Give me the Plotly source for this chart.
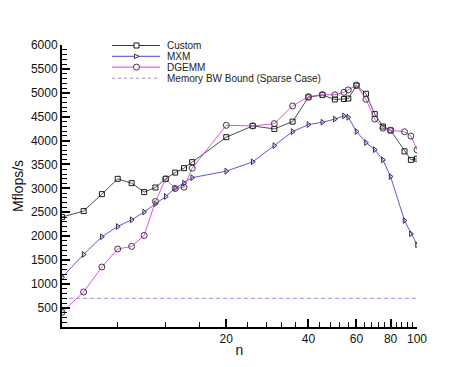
import math
import plotly.graph_objects as go

# ---- data ----
n_values = [5, 6, 7, 8, 9, 10, 11, 12, 13, 14, 15, 20, 25, 30, 35, 40, 45, 50, 54, 56,
            60, 65, 70, 75, 80, 90, 95, 100]
custom = [2400, 2525, 2880, 3200, 3110, 2922, 3018, 3200, 3331, 3423, 3549, 4071, 4307,
          4244, 4397, 4906, 4955, 4860, 4871, 4880, 5150, 4980, 4555, 4295, 4215, 3775,
          3597, 3620]
mxm = [1138, 1618, 1988, 2203, 2343, 2504, 2677, 2830, 3005, 3110, 3225, 3360, 3555,
       3895, 4188, 4334, 4384, 4450, 4516, 4489, 4190, 3958, 3810, 3597, 3248, 2329,
       2051, 1821]
dgemm = [407, 833, 1355, 1731, 1786, 2015, 2726, 3200, 2997, 3026, 3423, 4320, 4307,
         4355, 4725, 4919, 4961, 4958, 5010, 5060, 5163, 4865, 4450, 4260, 4215, 4185,
         4095, 3806]
bw_bound = 700

series_names = ["Custom", "MXM", "DGEMM", "Memory BW Bound (Sparse Case)"]
x_tick_vals = [20, 40, 60, 80, 100]
x_tick_text = ["20", "40", "60", "80", "100"]
x_minor_vals = [8, 12, 16, 24, 28, 32, 36, 44, 48, 52, 56, 64, 68, 72, 76, 84, 88, 92, 96]
y_tick_vals = [500, 1000, 1500, 2000, 2500, 3000, 3500, 4000, 4500, 5000, 5500, 6000]

FONT = "Liberation Sans, Arial, sans-serif"
C_CUSTOM = "#3a3a3a"
C_MXM = "#4646d8"
C_DGEMM = "#e03ce0"
C_BOUND = "#a08ce6"

fig = go.Figure()
fig.add_trace(go.Scatter(
    x=n_values, y=custom, mode="lines+markers", name=series_names[0],
    line=dict(color=C_CUSTOM, width=0.9),
    marker=dict(symbol="square-open", size=5, color="#1a1a1a", line=dict(width=1))))
fig.add_trace(go.Scatter(
    x=n_values, y=mxm, mode="lines+markers", name=series_names[1],
    line=dict(color=C_MXM, width=0.9),
    marker=dict(symbol="triangle-right-open", size=5, color="#30304a", line=dict(width=1))))
fig.add_trace(go.Scatter(
    x=n_values, y=dgemm, mode="lines+markers", name=series_names[2],
    line=dict(color=C_DGEMM, width=0.9),
    marker=dict(symbol="circle-open", size=6, color="#3a3a3a", line=dict(width=1))))
fig.add_trace(go.Scatter(
    x=[n_values[0], n_values[-1]], y=[bw_bound, bw_bound], mode="lines",
    name=series_names[3],
    line=dict(color=C_BOUND, width=1, dash="4px,3px")))

# ---- manual compact legend (decoration only) ----
L, R, T, B = 62, 57, 45, 40
W, H = 474, 367
pw, ph = W - L - R, H - T - B


def px(xp):
    return (xp - L) / pw


def py(yp):
    return (H - B - yp) / ph


rows_y = [45.5, 56.3, 67.1, 78.2]
line_x0, line_x1, mark_x, text_x = 112, 160, 136.5, 166
styles = [(C_CUSTOM, "solid"), (C_MXM, "solid"), (C_DGEMM, "solid"), (C_BOUND, "3px,3px")]
shapes = []
annotations = []
for i, (name, (col, dash)) in enumerate(zip(series_names, styles)):
    yy = py(rows_y[i])
    shapes.append(dict(type="line", xref="paper", yref="paper",
                       x0=px(line_x0), x1=px(line_x1), y0=yy, y1=yy,
                       line=dict(color=col, width=1, dash=dash)))
    annotations.append(dict(xref="paper", yref="paper", x=px(text_x), y=yy,
                            text=name, showarrow=False, xanchor="left", yanchor="middle",
                            borderpad=0,
                            font=dict(family=FONT, size=10, color="#222")))
# legend marker glyphs
mx = px(mark_x)
shapes.append(dict(type="rect", xref="paper", yref="paper", xsizemode="pixel",
                   ysizemode="pixel", xanchor=mx, yanchor=py(rows_y[0]),
                   x0=-2.5, x1=2.5, y0=-2.5, y1=2.5,
                   line=dict(color="#1a1a1a", width=1), fillcolor="white"))
shapes.append(dict(type="path", xref="paper", yref="paper", xsizemode="pixel",
                   ysizemode="pixel", xanchor=mx, yanchor=py(rows_y[1]),
                   path="M -2 -2.2 L 2.5 0 L -2 2.2 Z",
                   line=dict(color="#30304a", width=1), fillcolor="white"))
shapes.append(dict(type="circle", xref="paper", yref="paper", xsizemode="pixel",
                   ysizemode="pixel", xanchor=mx, yanchor=py(rows_y[2]),
                   x0=-3, x1=3, y0=-3, y1=3,
                   line=dict(color="#3a3a3a", width=1), fillcolor="white"))

fig.update_layout(
    width=W, height=H,
    margin=dict(l=L, r=R, t=T, b=B, autoexpand=False),
    paper_bgcolor="white", plot_bgcolor="white",
    showlegend=False,
    font=dict(family=FONT, size=12, color="#111"),
    shapes=shapes, annotations=annotations,
)
fig.update_xaxes(
    type="log", range=[math.log10(5), math.log10(100)], automargin=False,
    tickmode="array", tickvals=x_tick_vals, ticktext=x_tick_text,
    ticks="inside", ticklen=8, tickwidth=2, tickcolor="black",
    showline=True, linecolor="black", linewidth=2, showgrid=False, zeroline=False,
    tickfont=dict(family=FONT, size=12, color="#111"),
    minor=dict(tickmode="array", tickvals=x_minor_vals, ticks="inside", ticklen=5,
               tickwidth=1, tickcolor="black", showgrid=False),
    title=dict(text="n", font=dict(family=FONT, size=14, color="#111"), standoff=0),
)
fig.update_yaxes(
    range=[100, 6000], automargin=False,
    tickmode="array", tickvals=y_tick_vals,
    ticks="inside", ticklen=8, tickwidth=2, tickcolor="black",
    showline=True, linecolor="black", linewidth=2, showgrid=False, zeroline=False,
    tickfont=dict(family=FONT, size=12, color="#111"),
    minor=dict(dtick=100, tick0=0, ticks="inside", ticklen=5, tickwidth=1,
               tickcolor="black", showgrid=False),
    title=dict(text="Mflops/s", font=dict(family=FONT, size=14, color="#111"), standoff=4),
)

fig.write_html("out.html", config={"displayModeBar": False, "staticPlot": True})

# remove the browser's default 8px body margin so the figure sits at the page origin
with open("out.html", "r", encoding="utf-8") as f:
    html = f.read()
html = html.replace("<head>", "<head><style>html,body{margin:0;padding:0;overflow:hidden;}</style>", 1)
with open("out.html", "w", encoding="utf-8") as f:
    f.write(html)
